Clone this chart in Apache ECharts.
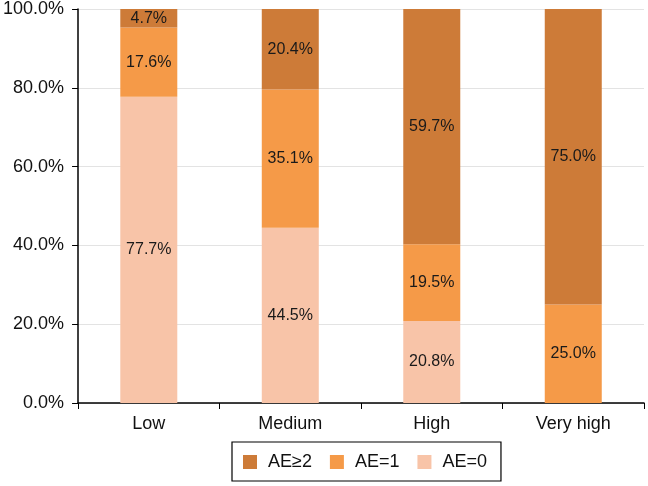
<!DOCTYPE html>
<html><head><meta charset="utf-8">
<script src="https://cdn.jsdelivr.net/npm/echarts@6/dist/echarts.min.js"></script>
<style>html,body{margin:0;padding:0;background:#fff}#c{width:648px;height:486px}</style>
</head><body><div id="c"></div>
<script>
var categories = ['Low', 'Medium', 'High', 'Very high'];
var ae0 = [77.7, 44.5, 20.8, 0];
var ae1 = [17.6, 35.1, 19.5, 25.0];
var ae2 = [4.7, 20.4, 59.7, 75.0];
var yTicks = [0, 20, 40, 60, 80, 100];

var chart = echarts.init(document.getElementById('c'));
var font = 'Liberation Sans, Arial, sans-serif';
function mk(name, data, color) {
  return {
    name: name, type: 'bar', stack: 'a', data: data, barWidth: 57,
    itemStyle: { color: color },
    label: {
      show: true, position: 'inside', color: '#1a1a1a', fontSize: 16, fontFamily: font,
      formatter: function (p) { return p.value > 0 ? p.value.toFixed(1) + '%' : ''; }
    }
  };
}
chart.setOption({
  animation: false,
  grid: { left: 78, right: 4, top: 7, bottom: 83 },
  xAxis: {
    type: 'category', data: categories,
    axisLine: { lineStyle: { color: '#000', width: 1.5 } },
    axisTick: { show: true, alignWithLabel: false, length: 6, lineStyle: { color: '#000' } },
    axisLabel: { color: '#111', fontSize: 18, fontFamily: font, margin: 12 }
  },
  yAxis: {
    type: 'value', min: 0, max: 100, interval: 20,
    axisLine: { show: true, lineStyle: { color: '#000', width: 1.5 } },
    axisTick: { show: true, length: 6, lineStyle: { color: '#000' } },
    splitLine: { lineStyle: { color: '#e3e3e3' } },
    axisLabel: { color: '#111', fontSize: 18, fontFamily: font, margin: 14,
      formatter: function (v) { return v.toFixed(1) + '%'; } }
  },
  legend: {
    top: 442, left: 232, itemWidth: 14, itemHeight: 14, itemGap: 18,
    borderColor: '#000', borderWidth: 1.2, padding: [11, 14, 10, 11],
    textStyle: { fontSize: 18, fontFamily: font, color: '#111', padding: [0, 0, 0, 6] },
    icon: 'rect',
    data: ['AE\u22652', 'AE=1', 'AE=0']
  },
  series: [
    mk('AE=0', ae0, '#F8C4A8'),
    mk('AE=1', ae1, '#F59A48'),
    mk('AE\u22652', ae2, '#CD7B38')
  ]
});
</script></body></html>
